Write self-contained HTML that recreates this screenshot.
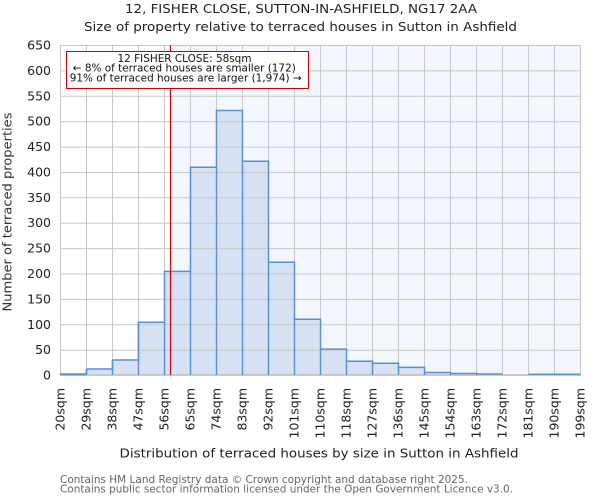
<!DOCTYPE html>
<html><head><meta charset="utf-8"><style>
html,body{margin:0;padding:0;background:#fff;}
svg{display:block;font-family:"DejaVu Sans","Liberation Sans",sans-serif;}
</style></head><body>
<svg width="600" height="500" viewBox="0 0 600 500" xmlns="http://www.w3.org/2000/svg">
<rect x="0" y="0" width="600" height="500" fill="#fff"/>
<text x="301" y="13" font-size="12.5" text-anchor="middle" fill="#222" textLength="352" lengthAdjust="spacingAndGlyphs">12, FISHER CLOSE, SUTTON-IN-ASHFIELD, NG17 2AA</text>
<text x="300.5" y="31" font-size="12.5" text-anchor="middle" fill="#222" textLength="433" lengthAdjust="spacingAndGlyphs">Size of property relative to terraced houses in Sutton in Ashfield</text>
<!-- shaded region -->
<rect x="170" y="45" width="410" height="330" fill="#f3f6fd"/>
<!-- bars fill -->
<g fill="#d6e2f3">
<rect x="60" y="374" width="26" height="1"/>
<rect x="86" y="369" width="26" height="6"/>
<rect x="112" y="360" width="26" height="15"/>
<rect x="138" y="322.2" width="26" height="52.8"/>
<rect x="164" y="271.4" width="26" height="103.6"/>
<rect x="190" y="167.3" width="26" height="207.7"/>
<rect x="216" y="110.5" width="26" height="264.5"/>
<rect x="242" y="161.3" width="26" height="213.7"/>
<rect x="268" y="262.3" width="26" height="112.7"/>
<rect x="294" y="319.2" width="26" height="55.8"/>
<rect x="320" y="349.1" width="26" height="25.9"/>
<rect x="346" y="361.3" width="26" height="13.7"/>
<rect x="372" y="363.3" width="26" height="11.7"/>
<rect x="398" y="367.4" width="26" height="7.6"/>
<rect x="424" y="372.5" width="26" height="2.5"/>
<rect x="450" y="373.5" width="26" height="1.5"/>
<rect x="476" y="374" width="26" height="1"/>
<rect x="528" y="374.5" width="26" height="0.5"/>
<rect x="554" y="374.5" width="26" height="0.5"/>
</g>
<!-- grid -->
<g stroke="#c8c8c8" stroke-width="1" fill="none">
<path d="M60.5 45V375M86.5 45V375M112.5 45V375M138.5 45V375M164.5 45V375M190.5 45V375M216.5 45V375M242.5 45V375M268.5 45V375M294.5 45V375M320.5 45V375M346.5 45V375M372.5 45V375M398.5 45V375M424.5 45V375M450.5 45V375M476.5 45V375M502.5 45V375M528.5 45V375M554.5 45V375M580.5 45V375"/>
<path d="M60 45.5H581M60 70.9H581M60 96.3H581M60 121.7H581M60 147.1H581M60 172.5H581M60 197.8H581M60 223.2H581M60 248.6H581M60 274H581M60 299.4H581M60 324.8H581M60 350.2H581"/>
<path d="M60 375H581" stroke-width="2"/>
</g>
<!-- bar edges -->
<g fill="none" stroke="#5b8fd6" stroke-width="1.5">
<path d="M60.5 375V374H86.5V369H112.5V360H138.5V322.2H164.5V271.4H190.5V167.3H216.5V110.5H242.5V161.3H268.5V262.3H294.5V319.2H320.5V349.1H346.5V361.3H372.5V363.3H398.5V367.4H424.5V372.5H450.5V373.5H476.5V374H502.5"/>
<path d="M86.5 375V369M112.5 375V360M138.5 375V322.2M164.5 375V322.2M190.5 375V271.4M216.5 375V167.3M242.5 375V161.3M268.5 375V262.3M294.5 375V319.2M320.5 375V349.1M346.5 375V361.3M372.5 375V363.3M398.5 375V367.4M424.5 375V372.5M450.5 375V373.5M476.5 375V374"/>
<path d="M528.5 374.3H580.5"/>
<path d="M60 374.5H86"/>
</g>
<!-- red line -->
<line x1="170.5" y1="45" x2="170.5" y2="375" stroke="#d40000" stroke-width="1.2"/>
<!-- annotation box -->
<rect x="66.5" y="51.5" width="242" height="37" fill="#fff" stroke="#cc0000" stroke-width="1"/>
<g font-size="10.5" fill="#111" text-anchor="middle">
<text x="184.5" y="62" textLength="134" lengthAdjust="spacingAndGlyphs">12 FISHER CLOSE: 58sqm</text>
<text x="184.3" y="71.7" textLength="223" lengthAdjust="spacingAndGlyphs">← 8% of terraced houses are smaller (172)</text>
<text x="185.7" y="81.3" textLength="232" lengthAdjust="spacingAndGlyphs">91% of terraced houses are larger (1,974) →</text>
</g>
<!-- y ticks -->
<g font-size="12.5" fill="#222" text-anchor="end">
<text x="51" y="49.5">650</text>
<text x="51" y="74.9">600</text>
<text x="51" y="100.3">550</text>
<text x="51" y="125.7">500</text>
<text x="51" y="151.1">450</text>
<text x="51" y="176.5">400</text>
<text x="51" y="201.8">350</text>
<text x="51" y="227.2">300</text>
<text x="51" y="252.6">250</text>
<text x="51" y="278">200</text>
<text x="51" y="303.4">150</text>
<text x="51" y="328.8">100</text>
<text x="51" y="354.2">50</text>
<text x="51" y="379.5">0</text>
</g>
<!-- x ticks -->
<g font-size="12.5" fill="#222" text-anchor="end">
<text transform="translate(64.5,388) rotate(-90)">20sqm</text>
<text transform="translate(90.5,388) rotate(-90)">29sqm</text>
<text transform="translate(116.5,388) rotate(-90)">38sqm</text>
<text transform="translate(142.5,388) rotate(-90)">47sqm</text>
<text transform="translate(168.5,388) rotate(-90)">56sqm</text>
<text transform="translate(194.5,388) rotate(-90)">65sqm</text>
<text transform="translate(220.5,388) rotate(-90)">74sqm</text>
<text transform="translate(246.5,388) rotate(-90)">83sqm</text>
<text transform="translate(272.5,388) rotate(-90)">92sqm</text>
<text transform="translate(298.5,388) rotate(-90)">101sqm</text>
<text transform="translate(324.5,388) rotate(-90)">110sqm</text>
<text transform="translate(350.5,388) rotate(-90)">118sqm</text>
<text transform="translate(376.5,388) rotate(-90)">127sqm</text>
<text transform="translate(402.5,388) rotate(-90)">136sqm</text>
<text transform="translate(428.5,388) rotate(-90)">145sqm</text>
<text transform="translate(454.5,388) rotate(-90)">154sqm</text>
<text transform="translate(480.5,388) rotate(-90)">163sqm</text>
<text transform="translate(506.5,388) rotate(-90)">172sqm</text>
<text transform="translate(532.5,388) rotate(-90)">181sqm</text>
<text transform="translate(558.5,388) rotate(-90)">190sqm</text>
<text transform="translate(584.5,388) rotate(-90)">199sqm</text>
</g>
<text x="319" y="457.5" font-size="12.5" fill="#222" text-anchor="middle" textLength="399" lengthAdjust="spacingAndGlyphs">Distribution of terraced houses by size in Sutton in Ashfield</text>
<text transform="translate(11.5,212) rotate(-90)" font-size="12.5" fill="#333" text-anchor="middle" textLength="199" lengthAdjust="spacingAndGlyphs">Number of terraced properties</text>
<g font-size="10.5" fill="#666">
<text x="60" y="483" textLength="408" lengthAdjust="spacingAndGlyphs">Contains HM Land Registry data © Crown copyright and database right 2025.</text>
<text x="60" y="492.5" textLength="453" lengthAdjust="spacingAndGlyphs">Contains public sector information licensed under the Open Government Licence v3.0.</text>
</g>
</svg>
</body></html>
